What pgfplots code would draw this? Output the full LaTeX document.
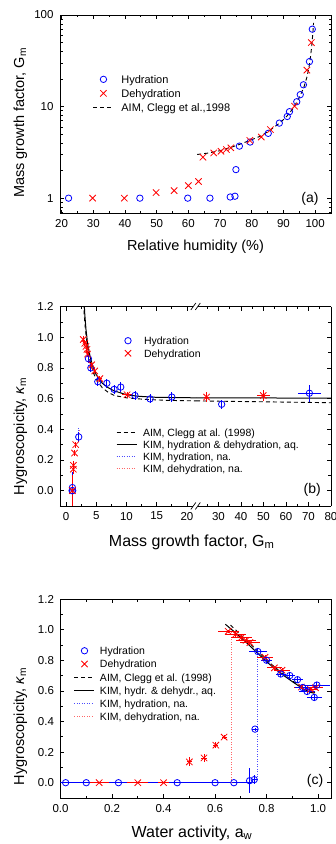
\documentclass[border=0pt]{standalone}
\usepackage{pgfplots}
\pgfplotsset{compat=1.18}
\usepackage{fontspec}
\setmainfont{Liberation Sans}
\usetikzlibrary{plotmarks}
\definecolor{myblue}{RGB}{0,0,255}
\definecolor{myred}{RGB}{255,0,0}
\pgfplotsset{
  base/.style={
    scale only axis,
    anchor=south west,
    tick align=inside,
    major tick length=4pt,
    minor tick length=2.5pt,
    axis line style={line width=0.8pt},
    every tick/.append style={black, line width=0.7pt},
    /pgf/number format/assume math mode=true,
    tick label style={font=\fontsize{11.5}{12}\selectfont},
    xticklabel style={yshift=-2.5pt},
    yticklabel style={xshift=-3pt},
    legend cell align=left,
    legend image code/.code={\path[draw=none,fill=none] (0pt,-3pt) rectangle (20pt,3pt); \draw[mark repeat=2,mark phase=2,##1] plot coordinates {(0pt,0pt) (10pt,0pt) (20pt,0pt)};},
    legend style={draw=none, fill=none, inner sep=0pt, outer sep=0pt, anchor=north west,
      column sep=6pt, row sep=4pt, font=\fontsize{10.5}{12}\selectfont,
      nodes={inner sep=0pt, text height=8pt, text depth=0pt, anchor=west}},
  },
  hyd/.style={myblue, only marks, mark=o, mark size=3.2pt, mark options={line width=0.8pt, solid}},
  dehyd/.style={myred, only marks, mark=x, mark size=4.5pt, mark options={line width=0.8pt, solid}},
  ebars/.style={error bars/x dir=both, error bars/x explicit, error bars/y dir=both, error bars/y explicit,
     error bars/error mark=none, error bars/error bar style={line width=0.8pt}},
  aim/.style={black, line width=0.9pt, dash pattern=on 4pt off 3pt, mark=none},
  kim/.style={black, line width=1pt, mark=none},
  nahyd/.style={myblue!70, line width=0.9pt, dash pattern=on 1pt off 1.5pt, mark=none},
  nadehyd/.style={myred!60, line width=0.9pt, dash pattern=on 1pt off 1.5pt, mark=none},
}
\begin{document}
\begin{tikzpicture}
% ---------------- panel (a)
\begin{axis}[base, at={(60pt,-213.5pt)}, width=271pt, height=198.5pt,
  xmin=19.5, xmax=105, ymode=log, ymin=0.68, ymax=100,
  xtick={20,30,40,50,60,70,80,90,100}, minor x tick num=1,
  ytick={1,10,100}, yticklabels={1,10,100},
  minor ytick={0.7,0.8,0.9,2,3,4,5,6,7,8,9,20,30,40,50,60,70,80,90},
  legend style={at={(0.1218,0.696)}, font=\fontsize{11}{12}\selectfont, row sep=6pt, column sep=7.5pt},
]
\addlegendimage{hyd}\addlegendentry{Hydration}
\addlegendimage{dehyd}\addlegendentry{Dehydration}
\addlegendimage{aim}\addlegendentry{AIM, Clegg et al.,1998}
\addplot[aim, forget plot] coordinates {(62.8,3.0) (66,3.1) (70,3.3) (73,3.55) (76,3.85) (80,4.35) (83,4.8) (86,5.6) (89,6.7) (91,7.8) (93,9.5) (95,12.5) (96.5,16.5) (97.5,21.5) (98.3,30) (98.9,45) (99.3,65) (99.5,82)};
\addplot[hyd, forget plot] coordinates {(22.2,1.0) (44.7,1.0) (59.8,1.0) (66.8,1.0) (73.2,1.03) (74.7,1.05) (75.0,2.05) (76.1,3.7) (79.5,4.1) (85.2,5.1) (88.7,6.6) (91.2,7.8) (91.9,8.8) (94.2,11.3) (95.3,13.5) (96.3,17.3) (98.2,31) (99.1,70)};
\addplot[dehyd, forget plot] coordinates {(29.8,1.0) (39.8,1.0) (49.8,1.15) (55.5,1.21) (60.0,1.37) (63.2,1.52) (64.6,2.8) (68.0,3.12) (70.3,3.25) (72.0,3.4) (73.4,3.55) (79.4,4.27) (83.0,4.65) (85.9,5.6) (93.5,10.1) (97.4,25) (98.8,50)};
\end{axis}
\node[font=\fontsize{14.5}{16}\selectfont, anchor=base] at (195.5pt,-250.7pt) {Relative humidity (\%)};
\node[font=\fontsize{14.5}{16}\selectfont, rotate=90, anchor=base] at (24pt,-123pt) {Mass growth factor, G\textsubscript{m}};
\node[font=\fontsize{14}{16}\selectfont] at (310pt,-199pt) {(a)};
% ---------------- panel (b) left
\begin{axis}[base, at={(60pt,-506pt)}, width=136pt, height=199.5pt,
  xmin=-1, xmax=21.5, ymin=-0.1, ymax=1.2, axis y line*=left,
  xtick={0,5,10,15,20}, minor x tick num=1,
  ytick={0,0.2,0.4,0.6,0.8,1.0,1.2}, minor y tick num=1,
  yticklabel style={/pgf/number format/.cd, fixed, fixed zerofill, precision=1},
  legend style={at={(0.4265,0.8486)}, row sep=4.6pt},
]
\addlegendimage{hyd}\addlegendentry{Hydration}
\addlegendimage{dehyd}\addlegendentry{Dehydration}
\addplot[aim, forget plot] coordinates {(2.9,1.22) (3.0,1.15) (3.2,1.05) (3.5,0.95) (4.0,0.84) (4.5,0.77) (5.0,0.725) (6.0,0.67) (7.0,0.64) (8.0,0.62) (10,0.605) (13,0.595) (17,0.588) (21.5,0.585)};
\addplot[kim, forget plot] coordinates {(3.0,1.22) (3.1,1.15) (3.3,1.05) (3.6,0.95) (4.0,0.87) (4.5,0.80) (5.0,0.755) (6.0,0.70) (7,0.67) (8,0.65) (10,0.625) (12,0.615) (15,0.608) (21.5,0.605)};
\addplot[nahyd, forget plot] coordinates {(2.1,0.37) (2.1,0.41)};
\addplot[nadehyd, forget plot] coordinates {(2.2,0.37) (2.2,0.40)};
\addplot[hyd, ebars, forget plot] coordinates {
 (1.0,0.0) +- (0,0.1) (1.05,0.02) +- (0,0.1) (1.1,0.0) +- (0,0.08) (2.1,0.35) +- (0,0.03)
 (3.7,0.86) +- (0,0.03) (4.1,0.80) +- (0,0.03) (5.25,0.71) +- (0,0.03) (6.75,0.70) +- (0,0.03)
 (7.95,0.66) +- (0,0.03) (9.05,0.675) +- (0,0.03) (11.4,0.62) +- (0,0.03) (13.9,0.598) +- (0,0.03) (17.5,0.61) +- (0,0.03)};
\addplot[dehyd, ebars, forget plot] coordinates {
 (1.05,0.0) +- (0,0.1) (1.2,0.14) +- (0,0.03) (1.22,0.165) +- (0,0.03) (1.4,0.245) +- (0,0.02) (1.6,0.30) +- (0,0.02)
 (2.85,0.985) +- (0.1,0.02) (3.1,0.96) +- (0.1,0.02) (3.3,0.94) +- (0.1,0.02) (3.45,0.92) +- (0.1,0.02) (3.55,0.89) +- (0.1,0.02)
 (4.25,0.82) +- (0.15,0.02) (4.75,0.78) +- (0.2,0.02) (5.6,0.73) +- (0.3,0.02) (10.1,0.625) +- (0.8,0.02)};
\end{axis}
% ---------------- panel (b) right
\begin{axis}[base, at={(196pt,-506pt)}, width=135pt, height=199.5pt,
  xmin=20, xmax=80, ymin=-0.1, ymax=1.2, axis y line*=right,
  xtick={30,40,50,60,70,80}, minor xtick={25,35,45,55,65,75},
  ytick={0,0.2,0.4,0.6,0.8,1.0,1.2}, minor y tick num=1, yticklabels={},
  legend style={at={(-0.5926,0.3895)}, row sep=4pt},
]
\addlegendimage{aim}\addlegendentry{AIM, Clegg at al. (1998)}
\addlegendimage{kim}\addlegendentry{KIM, hydration \& dehydration, aq.}
\addlegendimage{nahyd}\addlegendentry{KIM, hydration, na.}
\addlegendimage{nadehyd}\addlegendentry{KIM, dehydration, na.}
\addplot[aim, forget plot] coordinates {(20,0.585) (80,0.573)};
\addplot[kim, forget plot] coordinates {(20,0.605) (80,0.603)};
\addplot[hyd, ebars, forget plot] coordinates {(31.4,0.563) +- (0,0.03) (70.4,0.635) +- (5,0.055)};
\addplot[dehyd, ebars, forget plot] coordinates {(24.7,0.61) +- (1,0.03) (49.9,0.62) +- (3,0.035)};
\end{axis}
\fill[white] (193.3pt,-305.3pt) rectangle (198.3pt,-307.7pt);
\fill[white] (193.3pt,-504.8pt) rectangle (198.3pt,-507.2pt);
\draw[line width=0.7pt] (190.8pt,-310pt) -- (195.8pt,-303pt);
\draw[line width=0.7pt] (195.3pt,-310pt) -- (200.3pt,-303pt);
\draw[line width=0.7pt] (190.8pt,-509.5pt) -- (195.8pt,-502.5pt);
\draw[line width=0.7pt] (195.3pt,-509.5pt) -- (200.3pt,-502.5pt);
\node[font=\fontsize{16}{18}\selectfont, anchor=base] at (191.7pt,-546pt) {Mass growth factor, G\textsubscript{m}};
\node[font=\fontsize{14.5}{16}\selectfont, rotate=90, anchor=base] at (24pt,-436.7pt) {Hygroscopicity, {\itshape κ}\textsubscript{m}};
\node[font=\fontsize{14}{16}\selectfont] at (312.3pt,-490pt) {(b)};
% ---------------- panel (c)
\begin{axis}[base, at={(60.5pt,-798pt)}, width=270.5pt, height=199pt,
  xmin=0, xmax=1.05, ymin=-0.1, ymax=1.2,
  xtick={0,0.2,0.4,0.6,0.8,1.0}, minor x tick num=1,
  ytick={0,0.2,0.4,0.6,0.8,1.0,1.2}, minor y tick num=1,
  xticklabel style={/pgf/number format/.cd, fixed, fixed zerofill, precision=1},
  yticklabel style={/pgf/number format/.cd, fixed, fixed zerofill, precision=1},
  legend style={at={(0.0499,0.760)}, row sep=5.2pt, column sep=5pt},
]
\addlegendimage{hyd}\addlegendentry{Hydration}
\addlegendimage{dehyd}\addlegendentry{Dehydration}
\addlegendimage{aim}\addlegendentry{AIM, Clegg et al. (1998)}
\addlegendimage{kim}\addlegendentry{KIM, hydr. \& dehydr., aq.}
\addlegendimage{nahyd}\addlegendentry{KIM, hydration, na.}
\addlegendimage{nadehyd}\addlegendentry{KIM, dehydration, na.}
\addplot[myblue, line width=0.9pt, forget plot] coordinates {(0,0) (0.745,0)};
\addplot[nadehyd, forget plot] coordinates {(0.665,0) (0.665,0.99)};
\addplot[nahyd, forget plot] coordinates {(0.763,0.02) (0.763,0.857)};
\addplot[aim, forget plot] coordinates {(0.66,1.03) (0.70,0.965) (0.75,0.885) (0.80,0.80) (0.85,0.73) (0.90,0.665) (0.94,0.625) (0.97,0.6) (0.99,0.585)};
\addplot[kim, forget plot] coordinates {(0.64,1.035) (0.70,0.95) (0.75,0.87) (0.80,0.79) (0.85,0.72) (0.90,0.66) (0.94,0.615) (0.97,0.59) (0.985,0.585)};
\addplot[dehyd, ebars, forget plot] coordinates {
 (0.15,0) +- (0.04,0) (0.30,0) +- (0.04,0) (0.40,0) +- (0.02,0)
 (0.50,0.136) +- (0.01,0.03) (0.557,0.162) +- (0.01,0.025) (0.603,0.245) +- (0.01,0.02) (0.635,0.298) +- (0.01,0.015)
 (0.651,0.989) +- (0.04,0.01) (0.68,0.97) +- (0.04,0.015) (0.703,0.95) +- (0.04,0.015) (0.72,0.93) +- (0.04,0.015)
 (0.735,0.915) +- (0.04,0.015) (0.794,0.82) +- (0.03,0.015) (0.83,0.75) +- (0.03,0.015) (0.86,0.735) +- (0.03,0.015)
 (0.935,0.625) +- (0.03,0.015) (0.97,0.61) +- (0.03,0.015) (0.99,0.62) +- (0.03,0.015)};
\addplot[hyd, ebars, forget plot] coordinates {
 (0.02,0) +- (0,0) (0.1,0) +- (0,0) (0.225,0) +- (0,0) (0.453,0) +- (0,0) (0.6,0) +- (0,0) (0.673,0) +- (0,0)
 (0.734,0.013) +- (0,0.08) (0.752,0.02) +- (0.01,0.03) (0.755,0.35) +- (0.012,0.01) (0.766,0.857) +- (0.035,0.02)
 (0.80,0.80) +- (0.02,0.02) (0.855,0.71) +- (0.02,0.02) (0.89,0.70) +- (0.02,0.02) (0.92,0.673) +- (0.02,0.02)
 (0.94,0.622) +- (0.03,0.02) (0.957,0.596) +- (0.03,0.02) (0.985,0.557) +- (0.03,0.02) (0.995,0.638) +- (0.05,0.02)};
\end{axis}
\node[font=\fontsize{16}{18}\selectfont, anchor=base] at (192pt,-837pt) {Water activity, a\textsubscript{w}};
\node[font=\fontsize{14.5}{16}\selectfont, rotate=90, anchor=base] at (24pt,-726.7pt) {Hygroscopicity, {\itshape κ}\textsubscript{m}};
\node[font=\fontsize{14}{16}\selectfont] at (315pt,-781.3pt) {(c)};
\pgfresetboundingbox
\path[use as bounding box] (0pt,0pt) rectangle (336pt,-844pt);
\end{tikzpicture}
\end{document}
